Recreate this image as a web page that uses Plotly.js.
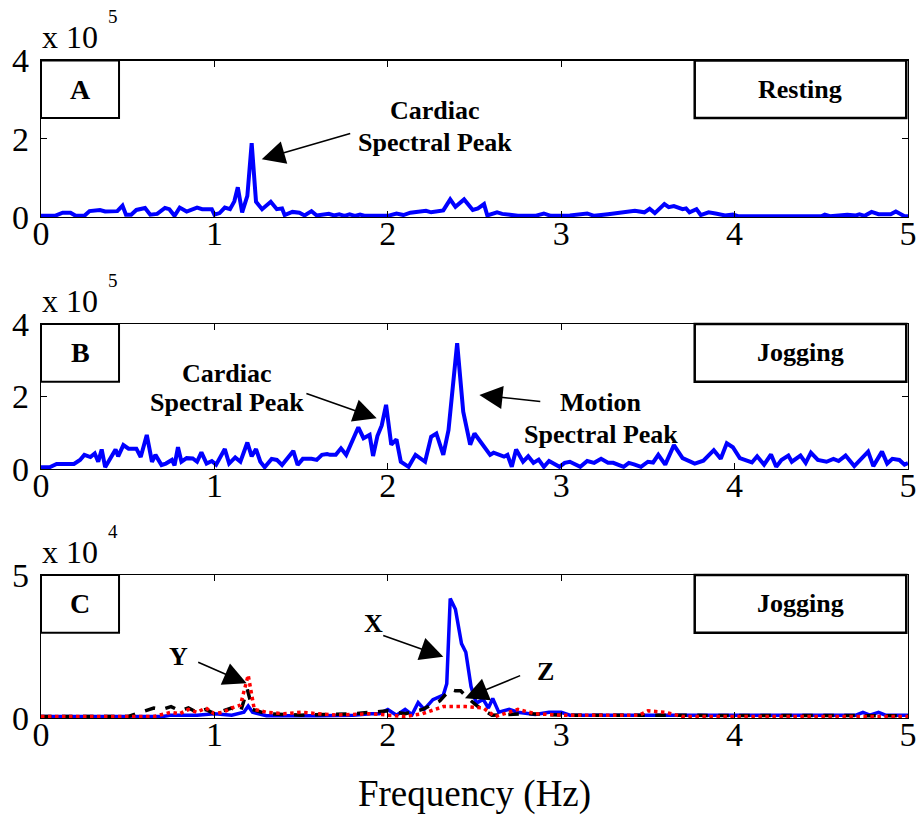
<!DOCTYPE html>
<html><head><meta charset="utf-8">
<script src="https://cdn.plot.ly/plotly-3.0.1.min.js"></script>
<style>html,body{margin:0;padding:0;background:#fff}#chart{width:924px;height:815px}</style>
</head><body><div id="chart"></div>
<script>
// Panel A (Resting) - frequency (Hz) and amplitude (x 10^5)
const freqA = [0,0.08,0.125,0.17,0.2,0.25,0.28,0.34,0.37,0.44,0.47,0.49,0.52,0.55,0.60,0.63,0.67,0.715,0.74,0.77,0.80,0.84,0.90,0.93,0.985,1.0,1.03,1.06,1.09,1.115,1.135,1.16,1.19,1.215,1.24,1.275,1.325,1.36,1.39,1.405,1.45,1.49,1.52,1.56,1.59,1.63,1.66,1.69,1.72,1.75,1.78,1.81,1.84,1.87,1.93,2.0,2.05,2.09,2.13,2.185,2.22,2.25,2.29,2.32,2.36,2.39,2.44,2.49,2.52,2.555,2.574,2.63,2.66,2.75,2.85,2.9,2.94,3.05,3.15,3.19,3.27,3.34,3.37,3.425,3.48,3.51,3.54,3.595,3.62,3.65,3.7,3.72,3.74,3.78,3.805,3.85,3.89,3.945,3.99,4.02,4.5,4.52,4.55,4.65,4.7,4.72,4.75,4.79,4.83,4.9,4.93,4.98,5.0];
const ampA = [0.03,0.03,0.11,0.11,0.03,0.03,0.15,0.18,0.14,0.15,0.29,0.06,0.06,0.18,0.23,0.06,0.08,0.23,0.2,0.03,0.24,0.14,0.24,0.2,0.2,0.06,0.1,0.24,0.2,0.4,0.76,0.12,0.54,1.89,0.39,0.2,0.39,0.2,0.22,0.05,0.13,0.11,0.04,0.15,0.04,0.06,0.08,0.04,0.07,0.03,0.07,0.03,0.06,0.03,0.03,0.03,0.09,0.05,0.11,0.14,0.16,0.12,0.16,0.17,0.45,0.26,0.45,0.18,0.22,0.33,0.04,0.12,0.08,0.03,0.03,0.09,0.03,0.04,0.09,0.03,0.07,0.12,0.12,0.16,0.12,0.21,0.1,0.33,0.25,0.28,0.2,0.22,0.12,0.2,0.05,0.12,0.09,0.04,0.06,0.02,0.02,0.06,0.02,0.06,0.04,0.07,0.03,0.13,0.07,0.07,0.14,0.02,0.02];

// Panel B (Jogging) - amplitude (x 10^5)
const freqB = [0,0.05,0.09,0.19,0.225,0.25,0.285,0.31,0.33,0.35,0.37,0.40,0.43,0.445,0.475,0.505,0.55,0.575,0.61,0.64,0.66,0.695,0.72,0.755,0.77,0.79,0.81,0.84,0.875,0.90,0.925,0.955,0.985,1.01,1.03,1.06,1.085,1.12,1.15,1.17,1.19,1.215,1.24,1.265,1.29,1.33,1.36,1.39,1.42,1.455,1.48,1.51,1.56,1.59,1.62,1.65,1.667,1.70,1.73,1.76,1.83,1.86,1.895,1.915,1.94,1.965,1.99,2.02,2.05,2.075,2.12,2.16,2.215,2.25,2.28,2.32,2.35,2.4,2.435,2.475,2.5,2.55,2.59,2.61,2.64,2.67,2.69,2.715,2.74,2.78,2.81,2.84,2.87,2.90,2.93,2.99,3.02,3.05,3.11,3.15,3.19,3.23,3.27,3.30,3.36,3.39,3.42,3.46,3.5,3.53,3.56,3.6,3.65,3.7,3.77,3.82,3.88,3.92,3.955,3.99,4.03,4.1,4.13,4.17,4.21,4.24,4.27,4.31,4.33,4.38,4.41,4.44,4.48,4.53,4.57,4.6,4.64,4.69,4.77,4.8,4.85,4.88,4.91,4.95,4.98,5.0];
const ampB = [0.05,0.05,0.14,0.14,0.25,0.39,0.33,0.43,0.2,0.54,0.05,0.3,0.54,0.35,0.66,0.56,0.56,0.33,0.94,0.2,0.39,0.11,0.15,0.25,0.1,0.6,0.2,0.3,0.29,0.2,0.46,0.15,0.22,0.12,0.29,0.55,0.15,0.32,0.2,0.45,0.73,0.35,0.55,0.2,0.05,0.28,0.25,0.11,0.28,0.5,0.11,0.28,0.28,0.25,0.39,0.41,0.39,0.39,0.57,0.39,1.15,0.85,0.94,0.36,0.91,1.2,1.77,0.67,0.82,0.2,0.06,0.39,0.2,0.89,0.98,0.39,1.07,3.47,1.58,0.67,0.98,0.67,0.39,0.45,0.39,0.34,0.39,0.06,0.54,0.2,0.35,0.17,0.26,0.06,0.22,0.06,0.17,0.2,0.06,0.22,0.17,0.28,0.17,0.17,0.06,0.17,0.13,0.06,0.2,0.18,0.39,0.12,0.66,0.3,0.15,0.23,0.52,0.28,0.71,0.6,0.3,0.18,0.35,0.12,0.4,0.06,0.25,0.37,0.2,0.37,0.17,0.45,0.25,0.2,0.28,0.22,0.37,0.08,0.48,0.08,0.48,0.15,0.28,0.25,0.12,0.16];

// Panel C (Jogging, accelerometer axes) - amplitude (x 10^4)
const freqX = [0,0.7,0.75,0.9,1.0,1.1,1.17,1.195,1.22,1.3,1.6,1.8,1.9,1.95,2.0,2.05,2.1,2.14,2.175,2.21,2.26,2.32,2.34,2.36,2.39,2.425,2.45,2.48,2.51,2.55,2.58,2.605,2.64,2.7,2.75,2.85,2.93,3.0,3.05,4.7,4.74,4.78,4.83,4.87,5.0];
const ampX = [0.05,0.05,0.1,0.1,0.15,0.1,0.2,0.42,0.2,0.08,0.08,0.1,0.15,0.15,0.3,0.1,0.3,0.12,0.54,0.3,0.64,0.8,1.2,4.18,3.8,2.6,2.3,1.1,0.52,0.65,0.35,0.68,0.2,0.3,0.2,0.12,0.2,0.2,0.1,0.1,0.2,0.1,0.2,0.1,0.1];
const freqY = [0,0.65,0.75,0.8,0.85,0.9,0.95,1.0,1.05,1.1,1.15,1.195,1.23,1.3,1.4,1.5,1.6,1.7,1.9,2.0,2.1,2.2,2.27,2.32,2.45,2.55,2.62,2.7,2.75,2.85,3.0,3.45,3.5,3.6,3.7,5.0];
const ampY = [0.05,0.05,0.2,0.15,0.3,0.2,0.35,0.15,0.2,0.35,0.45,1.5,0.3,0.2,0.15,0.2,0.15,0.1,0.15,0.1,0.05,0.15,0.3,0.4,0.4,0.35,0.05,0.2,0.3,0.15,0.1,0.1,0.25,0.2,0.05,0.05];
const freqZ = [0,0.5,0.6,0.65,0.7,0.75,0.8,0.85,0.9,0.95,1.0,1.05,1.1,1.15,1.19,1.22,1.3,1.5,1.8,2.0,2.1,2.2,2.3,2.36,2.39,2.42,2.47,2.53,2.6,2.8,3.0,5.0];
const ampZ = [0.05,0.05,0.25,0.35,0.3,0.4,0.25,0.35,0.2,0.3,0.15,0.25,0.35,0.2,1.0,0.3,0.15,0.1,0.15,0.25,0.15,0.3,0.6,1.0,0.95,0.95,0.65,0.35,0.1,0.15,0.1,0.08];

const xTicks = [0,1,2,3,4,5];
const yTicksAB = [0,2,4];
const yTicksC = [0,5];
const boxLabels = ['A','B','C'];
const stateLabels = ['Resting','Jogging','Jogging'];
const exponents = ['5','5','4'];

const W = 924, H = 815;
const left = 41/W, right = 908/W;
const panels = [[60.5,217],[324,469],[575,718]]; // top/bottom pixels
const serif = 'Liberation Serif, Times New Roman, serif';
const tickFont = {family:serif, size:34, color:'#000'};
const boldFont = {family:serif, size:26, color:'#000', weight:'bold'};

function xax(anchor, showTitle){
  const a = {domain:[left,right], range:[0,5], tickvals:xTicks, ticks:'inside', ticklen:6, tickcolor:'#000',
    showline:true, linecolor:'#000', linewidth:1.2, mirror:'ticks', showgrid:false, zeroline:false,
    tickfont:tickFont, ticklabelstandoff:-14, anchor:anchor, fixedrange:true};
  if (showTitle) a.title = {text:'Frequency (Hz)', font:{family:serif, size:37, color:'#000'}, standoff:28};
  return a;
}
function yax(i, range, tv, anchor){
  const top = panels[i][0], bot = panels[i][1];
  return {domain:[1-bot/H, 1-top/H], range:range, tickvals:tv, ticks:'inside', ticklen:6, tickcolor:'#000',
    showline:true, linecolor:'#000', linewidth:1.2, mirror:'ticks', showgrid:false, zeroline:false,
    tickfont:tickFont, ticklabelstandoff:4, anchor:anchor, fixedrange:true};
}

const blue = '#0000FF';
const traces = [
  {x:freqA, y:ampA, xaxis:'x', yaxis:'y', mode:'lines', line:{color:blue, width:4}},
  {x:freqB, y:ampB, xaxis:'x2', yaxis:'y2', mode:'lines', line:{color:blue, width:4}},
  {x:freqX, y:ampX, xaxis:'x3', yaxis:'y3', mode:'lines', line:{color:blue, width:3.5}},
  {x:freqZ, y:ampZ, xaxis:'x3', yaxis:'y3', mode:'lines', line:{color:'#000', width:3.5, dash:'dash'}},
  {x:freqY, y:ampY, xaxis:'x3', yaxis:'y3', mode:'lines', line:{color:'#FF0000', width:3.5, dash:'dot'}}
];

const shapes = [];
const annotations = [];
const axIds = [['x','y'],['x2','y2'],['x3','y3']];
const boxH = [0.367, 0.398, 0.403];
for (let i=0;i<3;i++){
  const xr = axIds[i][0]+' domain', yr = axIds[i][1]+' domain';
  shapes.push({type:'rect', xref:xr, yref:yr, x0:0, x1:0.09, y0:1-boxH[i], y1:1, line:{color:'#000', width:2}, fillcolor:'#fff', layer:'above'});
  shapes.push({type:'rect', xref:xr, yref:yr, x0:0.754, x1:0.998, y0:1-boxH[i], y1:1, line:{color:'#000', width:2.5}, fillcolor:'#fff', layer:'above'});
  annotations.push({xref:xr, yref:yr, x:0.045, y:1-boxH[i]/2, text:boxLabels[i], showarrow:false, font:{...boldFont, size:28}, xanchor:'center', yanchor:'middle'});
  annotations.push({xref:xr, yref:yr, x:0.876, y:1-boxH[i]/2, text:stateLabels[i], showarrow:false, font:boldFont, xanchor:'center', yanchor:'middle'});
  annotations.push({xref:'paper', yref:'paper', x:left-0.001, y:1-(panels[i][0]-23)/H, text:'x 10', showarrow:false,
    font:{family:serif, size:32, color:'#000'}, xanchor:'left', yanchor:'middle'});
  annotations.push({xref:'paper', yref:'paper', x:112.5/W, y:1-(panels[i][0]-44)/H, text:exponents[i], showarrow:false,
    font:{family:serif, size:19, color:'#000'}, xanchor:'center', yanchor:'middle'});
}

function txt(xr, yr, x, y, t){ annotations.push({xref:xr, yref:yr, x:x, y:y, text:t, showarrow:false, font:boldFont, xanchor:'center', yanchor:'middle'}); }
function arrow(xr, yr, x, y, ax, ay){ annotations.push({xref:xr, yref:yr, axref:xr, ayref:yr, x:x, y:y, ax:ax, ay:ay, text:'', showarrow:true, arrowhead:2, arrowsize:2.9, arrowwidth:1.6, arrowcolor:'#000', standoff:0, startstandoff:0}); }

txt('x','y',2.270,2.723,'Cardiac');
txt('x','y',2.272,1.910,'Spectral Peak');
arrow('x','y',1.273,1.479,1.792,2.146);

txt('x2','y2',1.071,2.648,'Cardiac');
txt('x2','y2',1.071,1.821,'Spectral Peak');
arrow('x2','y2',1.936,1.399,1.522,2.097);
txt('x2','y2',3.228,1.821,'Motion');
txt('x2','y2',3.230,0.938,'Spectral Peak');
arrow('x2','y2',2.528,2.041,2.888,1.857);

txt('x3','y3',0.792,2.143,'Y');
arrow('x3','y3',1.186,1.213,0.898,1.969);
txt('x3','y3',1.916,3.311,'X');
arrow('x3','y3',2.320,2.143,1.965,2.902);
txt('x3','y3',2.907,1.619,'Z');
arrow('x3','y3',2.445,0.689,2.772,1.503);

const layout = {
  width:W, height:H, margin:{l:0,r:0,t:0,b:0}, paper_bgcolor:'#fff', plot_bgcolor:'#fff', showlegend:false,
  xaxis:xax('y', false), yaxis:yax(0,[0,4],yTicksAB,'x'),
  xaxis2:xax('y2', false), yaxis2:yax(1,[0,4],yTicksAB,'x2'),
  xaxis3:xax('y3', true), yaxis3:yax(2,[0,5],yTicksC,'x3'),
  shapes:shapes, annotations:annotations
};
Plotly.newPlot('chart', traces, layout, {displayModeBar:false, staticPlot:true});
</script></body></html>
